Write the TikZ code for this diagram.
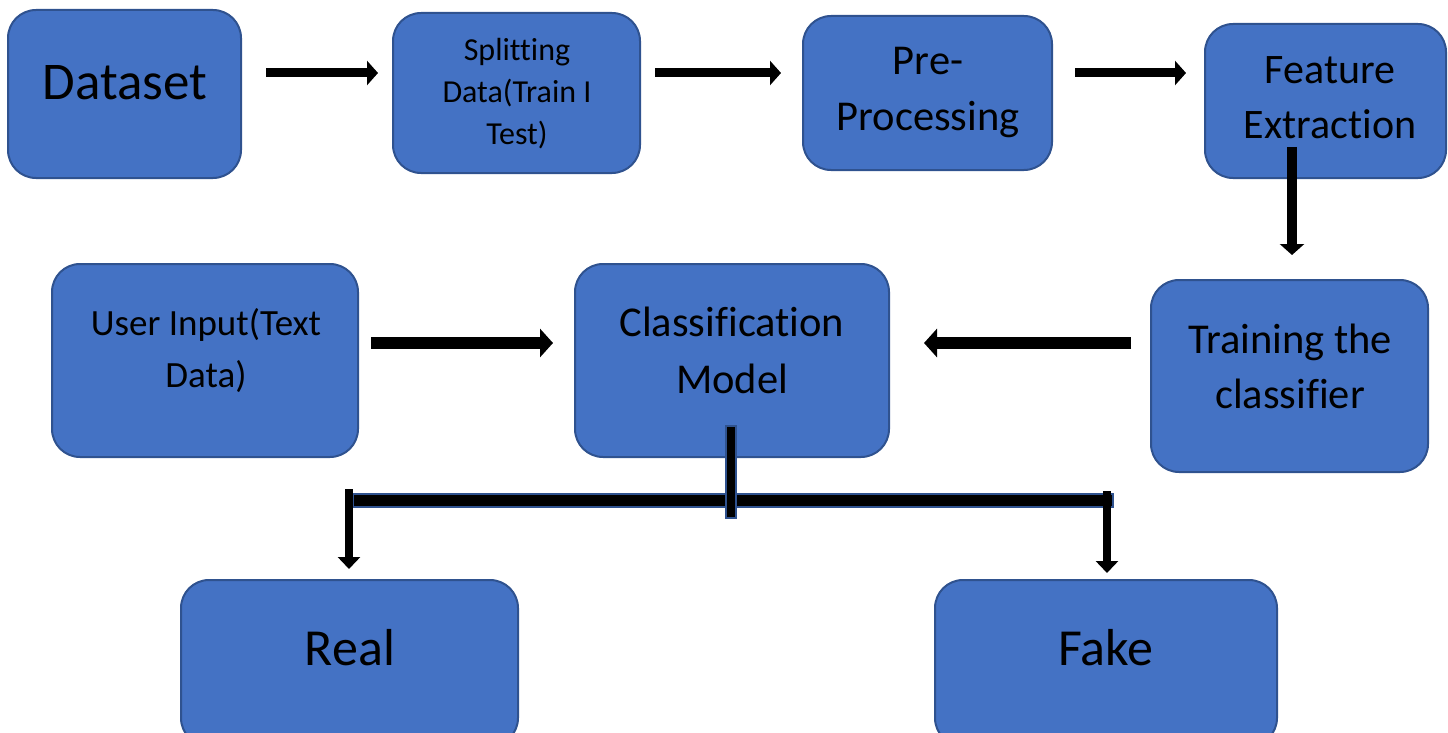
\documentclass[tikz,border=0pt]{standalone}
\usepackage{fontspec}
\setmainfont[Ligatures={NoCommon}]{Carlito}
\usetikzlibrary{arrows.meta}
\definecolor{boxblue}{HTML}{4472C4}
\definecolor{boxedge}{HTML}{2F528F}
\tikzset{
  box/.style={draw=boxedge, fill=boxblue, line width=2pt, rounded corners=28pt, rectangle, inner sep=0pt},
  lbl/.style={align=center, inner sep=0pt, text=black},
  blockarrow/.style={line width=#1, -{Triangle[width=24pt,length=11pt]}},
  busbar/.style={fill=black, draw=boxedge, line width=1.5pt}
}
\begin{document}
\begin{tikzpicture}[x=1pt,y=-1pt]
\useasboundingbox (0,0) rectangle (1448,733);
\clip (0,0) rectangle (1448,733);
% boxes
\node[box, minimum width=233pt, minimum height=168pt] (dataset) at (124.5,94) {};
\node[box, minimum width=247pt, minimum height=160pt] (split) at (516.5,93) {};
\node[box, minimum width=249pt, minimum height=154pt] (pre) at (927.5,93) {};
\node[box, minimum width=241pt, minimum height=154pt] (feat) at (1325.5,101) {};
\node[box, minimum width=306pt, minimum height=193pt] (user) at (205,360.5) {};
\node[box, minimum width=314pt, minimum height=193pt] (cls) at (732,360.5) {};
\node[box, minimum width=277pt, minimum height=192pt] (train) at (1289.5,376) {};
\node[box, minimum width=337pt, minimum height=166pt] (real) at (349.5,663) {};
\node[box, minimum width=342pt, minimum height=166pt] (fake) at (1106,663) {};
% labels
\node[lbl, font=\fontsize{53}{62}\selectfont] (tdataset) at (125,83) {Dataset};
\node[lbl, font=\fontsize{32}{42}\selectfont] (tsplit) at (517,94) {Splitting\\Data(Train I\\Test)};
\node[lbl, font=\fontsize{42.5}{56}\selectfont] (tpre) at (928,93) {Pre-\\Processing};
\node[lbl, font=\fontsize{42}{55}\selectfont] (tfeat) at (1330,98) {Feature\\Extraction};
\node[lbl, font=\fontsize{37}{52}\selectfont] (tuser) at (206,351) {User Input(Text\\Data)};
\node[lbl, font=\fontsize{42.5}{57}\selectfont] (tcls) at (732,350) {Classification\\Model};
\node[lbl, font=\fontsize{42.5}{55}\selectfont] (ttrain) at (1290,366) {Training the\\classifier};
\node[lbl, font=\fontsize{52}{60}\selectfont] (treal) at (350,648) {Real};
\node[lbl, font=\fontsize{52}{60}\selectfont] (tfake) at (1106,648) {Fake};
% arrow end points
\coordinate (a1s) at (266,73); \coordinate (a1e) at (378,73);
\coordinate (a2s) at (655,73); \coordinate (a2e) at (781,73);
\coordinate (a3s) at (1075,73); \coordinate (a3e) at (1186,73);
\coordinate (a4s) at (1292,147); \coordinate (a4e) at (1292,255);
\coordinate (a5s) at (1131,343); \coordinate (a5e) at (924,343);
\coordinate (a6s) at (371,343); \coordinate (a6e) at (553,343);
\coordinate (bl) at (349,489); \coordinate (ble) at (349,569);
\coordinate (br) at (1107,491); \coordinate (bre) at (1107,573);
% arrows
\draw[blockarrow=9pt] (a1s) -- (a1e);
\draw[blockarrow=9pt] (a2s) -- (a2e);
\draw[blockarrow=9pt] (a3s) -- (a3e);
\draw[blockarrow=10pt] (a4s) -- (a4e);
\draw[blockarrow=12pt, -{Triangle[width=28pt,length=13pt]}] (a5s) -- (a5e);
\draw[blockarrow=12pt, -{Triangle[width=28pt,length=13pt]}] (a6s) -- (a6e);
% bus
\draw[busbar] (353,494) rectangle (1113,507);
\draw[busbar] (726,426) rectangle (736,518);
\draw[blockarrow=8pt, -{Triangle[width=22pt,length=12pt]}] (bl) -- (ble);
\draw[blockarrow=8pt, -{Triangle[width=22pt,length=12pt]}] (br) -- (bre);
\end{tikzpicture}
\end{document}
